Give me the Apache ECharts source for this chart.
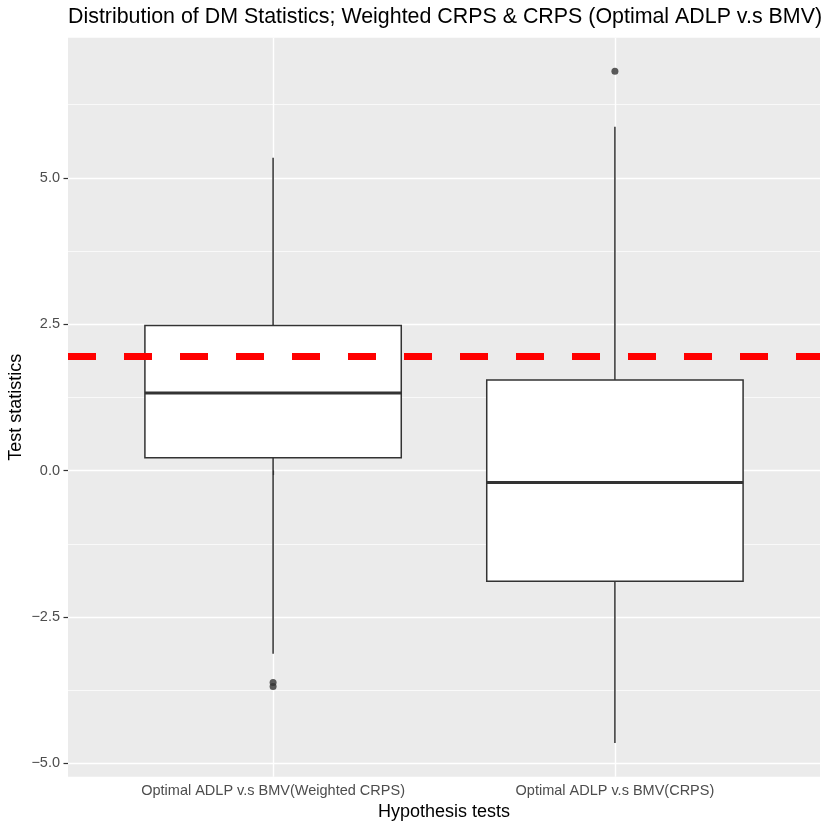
<!DOCTYPE html>
<html>
<head>
<meta charset="utf-8">
<script src="https://cdn.jsdelivr.net/npm/echarts@6/dist/echarts.min.js"></script>
<style>
  html, body { margin: 0; padding: 0; background: #fff; }
  #chart { width: 830px; height: 830px; }
</style>
</head>
<body>
<div id="chart"></div>
<script>
// values
const categories = ['Optimal ADLP v.s BMV(Weighted CRPS)', 'Optimal ADLP v.s BMV(CRPS)'];
const whiskerLow = [-3.13, -4.655];
const q1 = [0.217, -1.889];
const median = [1.327, -0.205];
const q3 = [2.476, 1.549];
const whiskerHigh = [5.345, 5.874];
const outlierCat = [0, 0, 1];
const outlierVal = [-3.62, -3.69, 6.82];
const threshold = 1.96;
const yTicks = [-5, -2.5, 0, 2.5, 5];
const yMinorTicks = [-3.75, -1.25, 1.25, 3.75, 6.25];

const font = 'Liberation Sans, Arial, sans-serif';
const halfBox = 0.375;
const boxColor = '#333333';

const boxData = categories.map(function (c, i) {
    return [i + 1, whiskerLow[i], q1[i], median[i], q3[i], whiskerHigh[i]];
});
const outlierData = outlierCat.map(function (c, i) {
    return [c + 1, outlierVal[i]];
});

const chart = echarts.init(document.getElementById('chart'), null, { renderer: 'canvas' });

const option = {
    animation: false,
    title: {
        text: 'Distribution of DM Statistics; Weighted CRPS & CRPS (Optimal ADLP v.s BMV)',
        left: 68,
        top: 7,
        padding: 0,
        textStyle: { fontFamily: font, fontSize: 21.4, fontWeight: 'normal', color: '#000' },
    },
    grid: {
        show: true,
        left: 68,
        right: 10,
        top: 37.7,
        bottom: 53.3,
        containLabel: false,
        outerBoundsMode: 'none',
        backgroundColor: '#EBEBEB',
        borderWidth: 0,
    },
    xAxis: {
        type: 'value',
        min: 0.4,
        max: 2.6,
        name: 'Hypothesis tests',
        nameLocation: 'middle',
        nameGap: 26,
        nameMoveOverlap: false,
        nameTextStyle: { fontFamily: font, fontSize: 18, color: '#000' },
        axisLine: { show: false },
        axisTick: {
            show: true,
            customValues: [1, 2],
            length: 4.5,
            lineStyle: { color: '#333', width: 1.2 },
        },
        axisLabel: {
            customValues: [1, 2],
            margin: 7,
            fontFamily: font,
            fontSize: 14.5,
            color: '#4D4D4D',
            formatter: function (v) { return categories[Math.round(v) - 1]; },
        },
        splitLine: { show: true, lineStyle: { color: '#fff', width: 1.4 } },
    },
    yAxis: [
        {
            type: 'value',
            min: -5.229,
            max: 7.394,
            name: 'Test statistics',
            nameLocation: 'middle',
            nameGap: 43,
            nameMoveOverlap: false,
            nameTextStyle: { fontFamily: font, fontSize: 18, color: '#000' },
            axisLine: { show: false },
            axisTick: {
                show: true,
                customValues: yTicks,
                length: 4.5,
                lineStyle: { color: '#333', width: 1.2 },
            },
            axisLabel: {
                customValues: yTicks,
                margin: 8,
                fontFamily: font,
                fontSize: 14.5,
                color: '#4D4D4D',
                formatter: function (v) { return v.toFixed(1).replace('-', '\u2212'); },
            },
            splitLine: { show: true, lineStyle: { color: '#fff', width: 1.4 } },
        },
        {
            // minor grid lines only
            type: 'value',
            min: -5.229,
            max: 7.394,
            position: 'right',
            axisLine: { show: false },
            axisTick: { show: false, customValues: yMinorTicks },
            axisLabel: { show: false, customValues: yMinorTicks },
            splitLine: { show: true, lineStyle: { color: '#fff', width: 0.7 } },
        },
    ],
    series: [
        {
            type: 'custom',
            z: 2,
            data: boxData,
            encode: { x: 0, y: [1, 2, 3, 4, 5] },
            renderItem: function (params, api) {
                const x = api.value(0);
                const pLow = api.coord([x, api.value(1)]);
                const pQ1 = api.coord([x, api.value(2)]);
                const pQ3 = api.coord([x, api.value(4)]);
                const pHigh = api.coord([x, api.value(5)]);
                const tl = api.coord([x - halfBox, api.value(4)]);
                const br = api.coord([x + halfBox, api.value(2)]);
                const mL = api.coord([x - halfBox, api.value(3)]);
                const mR = api.coord([x + halfBox, api.value(3)]);
                const lineStyle = { stroke: boxColor, lineWidth: 1.5 };
                return {
                    type: 'group',
                    children: [
                        { type: 'line', shape: { x1: pHigh[0], y1: pHigh[1], x2: pQ3[0], y2: pQ3[1] }, style: lineStyle },
                        { type: 'line', shape: { x1: pQ1[0], y1: pQ1[1], x2: pLow[0], y2: pLow[1] }, style: lineStyle },
                        {
                            type: 'rect',
                            shape: { x: tl[0], y: tl[1], width: br[0] - tl[0], height: br[1] - tl[1] },
                            style: { fill: '#fff', stroke: boxColor, lineWidth: 1.5 },
                        },
                        { type: 'line', shape: { x1: mL[0], y1: mL[1], x2: mR[0], y2: mR[1] }, style: { stroke: boxColor, lineWidth: 3 } },
                    ],
                };
            },
        },
        {
            type: 'scatter',
            z: 3,
            data: outlierData,
            symbol: 'circle',
            symbolSize: 7,
            itemStyle: { color: boxColor },
            markLine: {
                silent: true,
                symbol: ['none', 'none'],
                label: { show: false },
                lineStyle: { color: '#FF0000', width: 7, type: [28, 28], opacity: 1 },
                data: [{ yAxis: threshold }],
            },
        },
    ],
};

chart.setOption(option);
</script>
</body>
</html>
